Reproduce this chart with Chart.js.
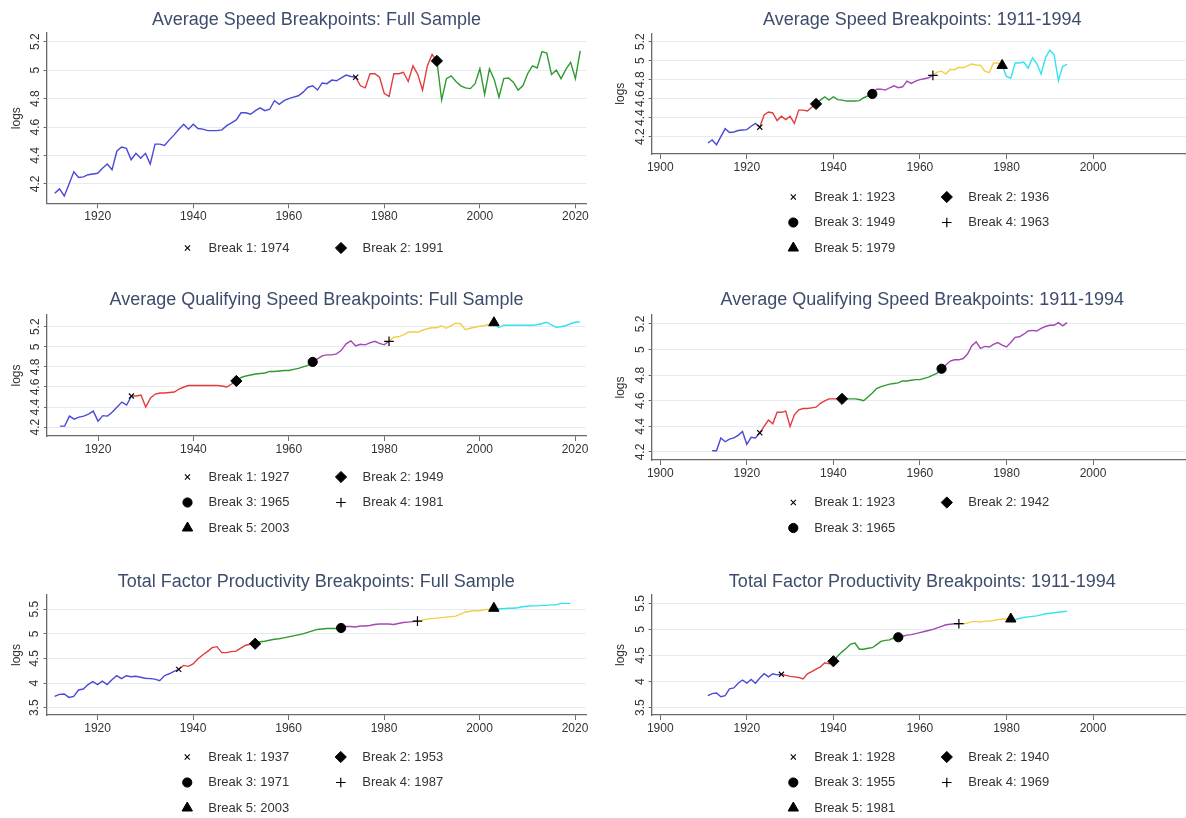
<!DOCTYPE html>
<html>
<head>
<meta charset="utf-8">
<script src="https://cdn.jsdelivr.net/npm/chart.js@4.4.1/dist/chart.umd.min.js"></script>
<style>
  html, body { margin: 0; padding: 0; background: #fff; width: 1186px; height: 818px; overflow: hidden; position: relative; }
  canvas { position: absolute; }
</style>
</head>
<body>
<canvas id="c1" width="593" height="280" style="left:0px;top:0px"></canvas>
<canvas id="c2" width="607" height="280" style="left:593px;top:0px"></canvas>
<canvas id="c3" width="593" height="280" style="left:0px;top:280px"></canvas>
<canvas id="c4" width="607" height="280" style="left:593px;top:280px"></canvas>
<canvas id="c5" width="593" height="280" style="left:0px;top:560px"></canvas>
<canvas id="c6" width="607" height="280" style="left:593px;top:560px"></canvas>
<script>
// Annual series in logs; each array holds one value per year from its start year.
const speedStart = 1911;
const avgSpeed = [
  4.134, 4.165, 4.116, 4.20, 4.285, 4.245, 4.25, 4.265, 4.27, 4.275,   // 1911-1920
  4.31, 4.34, 4.30, 4.43, 4.46, 4.45, 4.37, 4.415, 4.38, 4.415,         // 1921-1930
  4.34, 4.48, 4.48, 4.47, 4.51, 4.545, 4.585, 4.62, 4.585, 4.62,        // 1931-1940
  4.59, 4.585, 4.575, 4.575, 4.575, 4.58, 4.61, 4.63, 4.65, 4.70,       // 1941-1950
  4.70, 4.69, 4.715, 4.735, 4.715, 4.725, 4.785, 4.76, 4.785, 4.80,     // 1951-1960
  4.81, 4.82, 4.845, 4.88, 4.89, 4.86, 4.91, 4.905, 4.93, 4.925,        // 1961-1970
  4.945, 4.965, 4.955, 4.95, 4.89, 4.875, 4.975, 4.975, 4.95, 4.835,    // 1971-1980
  4.815, 4.975, 4.975, 4.985, 4.92, 5.03, 4.97, 4.86, 5.03, 5.11,       // 1981-1990
  5.065, 4.79, 4.94, 4.96, 4.92, 4.89, 4.875, 4.87, 4.905, 5.01,        // 1991-2000
  4.83, 5.01, 4.935, 4.81, 4.94, 4.945, 4.915, 4.86, 4.89, 4.975,       // 2001-2010
  5.03, 5.015, 5.13, 5.12, 4.97, 5.00, 4.94, 5.005, 5.055, 4.94,        // 2011-2020
  5.135                                                                  // 2021
];

const qualStart = 1912;
const qualSpeed = [
  4.21, 4.21, 4.31, 4.28, 4.30, 4.31, 4.33, 4.36, 4.26,                 // 1912-1920
  4.315, 4.31, 4.35, 4.40, 4.45, 4.42, 4.51, 4.51, 4.52, 4.40,          // 1921-1930
  4.49, 4.53, 4.54, 4.54, 4.545, 4.55, 4.58, 4.60, 4.615, 4.615,        // 1931-1940
  4.615, 4.615, 4.615, 4.615, 4.615, 4.61, 4.60, 4.63, 4.66, 4.695,     // 1941-1950
  4.71, 4.72, 4.73, 4.735, 4.74, 4.755, 4.755, 4.76, 4.765, 4.765,      // 1951-1960
  4.775, 4.785, 4.80, 4.815, 4.85, 4.88, 4.91, 4.92, 4.92, 4.93,        // 1961-1970
  4.965, 5.03, 5.06, 5.01, 5.025, 5.02, 5.04, 5.055, 5.035, 5.02,       // 1971-1980
  5.055, 5.095, 5.10, 5.12, 5.145, 5.15, 5.145, 5.165, 5.18, 5.19,      // 1981-1990
  5.19, 5.21, 5.185, 5.21, 5.235, 5.23, 5.17, 5.185, 5.195, 5.205,      // 1991-2000
  5.21, 5.225, 5.24, 5.19, 5.215, 5.215, 5.215, 5.215, 5.215, 5.215,    // 2001-2010
  5.215, 5.22, 5.23, 5.245, 5.22, 5.195, 5.20, 5.21, 5.23, 5.245,       // 2011-2020
  5.25                                                                   // 2021
];

const tfpStart = 1911;
const tfp = [
  3.73, 3.77, 3.78, 3.71, 3.73, 3.86, 3.88, 3.97, 4.03, 3.97,           // 1911-1920
  4.04, 3.97, 4.07, 4.15, 4.09, 4.15, 4.13, 4.14, 4.12, 4.10,           // 1921-1930
  4.09, 4.08, 4.05, 4.15, 4.19, 4.24, 4.28, 4.36, 4.34, 4.39,           // 1931-1940
  4.49, 4.57, 4.64, 4.72, 4.74, 4.62, 4.62, 4.64, 4.65, 4.71,           // 1941-1950
  4.77, 4.79, 4.80, 4.84, 4.85, 4.87, 4.89, 4.90, 4.92, 4.94,           // 1951-1960
  4.96, 4.98, 5.00, 5.03, 5.06, 5.09, 5.10, 5.11, 5.11, 5.11,           // 1961-1970
  5.12, 5.15, 5.15, 5.14, 5.16, 5.16, 5.17, 5.19, 5.20, 5.20,           // 1971-1980
  5.20, 5.19, 5.21, 5.23, 5.24, 5.25, 5.26, 5.28, 5.30, 5.31,           // 1981-1990
  5.32, 5.33, 5.34, 5.35, 5.36, 5.40, 5.44, 5.46, 5.47, 5.47,           // 1991-2000
  5.49, 5.50, 5.52, 5.51, 5.51, 5.52, 5.52, 5.53, 5.55, 5.56,           // 2001-2010
  5.57, 5.57, 5.58, 5.58, 5.59, 5.59, 5.62, 5.62, 5.62                  // 2011-2019
];

// Estimated structural break years
const speedBreaksFull = [1974, 1991];
const speedBreaksSub  = [1923, 1936, 1949, 1963, 1979];
const qualBreaksFull  = [1927, 1949, 1965, 1981, 2003];
const qualBreaksSub   = [1923, 1942, 1965];
const tfpBreaksFull   = [1937, 1953, 1971, 1987, 2003];
const tfpBreaksSub    = [1928, 1940, 1955, 1969, 1981];
const subSampleEnd = 1994;

// Axis ticks and their labels
const fullYearTicks = [1920, 1940, 1960, 1980, 2000, 2020];
const subYearTicks  = [1900, 1920, 1940, 1960, 1980, 2000];
const speedTicks = [4.2, 4.4, 4.6, 4.8, 5, 5.2];
const speedTickLabels = ['4.2', '4.4', '4.6', '4.8', '5', '5.2'];
const tfpTicks = [3.5, 4, 4.5, 5, 5.5];
const tfpTickLabels = ['3.5', '4', '4.5', '5', '5.5'];

// Styling
const FONT = "'Liberation Sans', Arial, Helvetica, sans-serif";
const regimeColors = ['#4a4ad6', '#e23c3c', '#2f9a2f', '#a447b3', '#f3cf45', '#33e3ef'];
const breakMarkers = [
  { style: 'crossRot', radius: 3.6, width: 1.1 },
  { style: 'rectRot',  radius: 5.6, width: 1 },
  { style: 'circle',   radius: 4.6, width: 1 },
  { style: 'cross',    radius: 4.8, width: 1.2 },
  { style: 'triangle', radius: 6,   width: 1 }
];
const AXIS_COLOR = '#6a6a6a';
const GRID_COLOR = '#e5ecf0';
const TEXT_COLOR = '#333333';
const TITLE_COLOR = '#3e4c6c';

function buildDatasets(start, values, lastYear, breaks) {
  const pts = values.map((v, i) => ({ x: start + i, y: v })).filter(p => p.x <= lastYear);
  const markers = breaks.map((b, k) => {
    const m = breakMarkers[k];
    return {
      label: 'Break ' + (k + 1) + ': ' + b,
      isBreak: true,
      data: pts.filter(p => p.x === b),
      showLine: false,
      pointStyle: m.style,
      pointRadius: m.radius,
      pointBorderWidth: m.width,
      pointBackgroundColor: '#000',
      pointBorderColor: '#000'
    };
  });
  const edges = [pts[0].x].concat(breaks, [pts[pts.length - 1].x]);
  const segments = [];
  for (let k = 0; k < edges.length - 1; k++) {
    segments.push({
      label: 'regime ' + (k + 1),
      data: pts.filter(p => p.x >= edges[k] && p.x <= edges[k + 1]),
      borderColor: regimeColors[k],
      borderWidth: 1.4,
      pointRadius: 0,
      tension: 0,
      fill: false
    });
  }
  // markers first so they are painted above the lines
  return markers.concat(segments);
}

// Two-column legend of the break markers, centred under the plot
const breakLegend = {
  id: 'breakLegend',
  afterDraw(chart, args, opts) {
    const ctx = chart.ctx;
    const items = chart.data.datasets.filter(d => d.isBreak);
    const nRows = Math.ceil(items.length / 2);
    const cx = (chart.chartArea.left + chart.chartArea.right) / 2;
    ctx.save();
    ctx.font = '13px ' + FONT;
    ctx.textBaseline = 'middle';
    ctx.textAlign = 'left';
    items.forEach((ds, i) => {
      const row = Math.floor(i / 2), col = i % 2;
      const y = opts.bottomRow - (nRows - 1 - row) * opts.rowGap;
      const sx = cx + (col ? opts.sym2 : opts.sym1);
      const tx = cx + (col ? opts.text2 : opts.text1);
      ctx.fillStyle = '#000';
      ctx.strokeStyle = '#000';
      ctx.lineWidth = ds.pointBorderWidth;
      Chart.helpers.drawPoint(ctx, {
        pointStyle: ds.pointStyle, rotation: 0,
        radius: ds.pointRadius, borderWidth: ds.pointBorderWidth
      }, sx, y);
      ctx.fillStyle = TEXT_COLOR;
      ctx.fillText(ds.label, tx, y);
    });
    ctx.restore();
  }
};

const panels = [
  { id: 'c1', title: 'Average Speed Breakpoints: Full Sample',
    start: speedStart, values: avgSpeed, last: 2021, breaks: speedBreaksFull,
    xMin: 1909.3, xMax: 2022.3, xTicks: fullYearTicks,
    yMin: 4.064, yMax: 5.261, yTicks: speedTicks, yLabels: speedTickLabels,
    yWidth: 46.6, padRight: 6, padBottom: 56.7, titleTop: 9.2, titleBottom: 2.2, logsPad: 9.2 },
  { id: 'c2', title: 'Average Speed Breakpoints: 1911-1994',
    start: speedStart, values: avgSpeed, last: subSampleEnd, breaks: speedBreaksSub,
    xMin: 1898.0, xMax: 2023.1, xTicks: subYearTicks,
    yMin: 4.018, yMax: 5.288, yTicks: speedTicks, yLabels: speedTickLabels,
    yWidth: 58.6, padRight: 7, padBottom: 106, titleTop: 9.2, titleBottom: 2.5, logsPad: 20.6 },
  { id: 'c3', title: 'Average Qualifying Speed Breakpoints: Full Sample',
    start: qualStart, values: qualSpeed, last: 2021, breaks: qualBreaksFull,
    xMin: 1909.3, xMax: 2022.3, xTicks: fullYearTicks,
    yMin: 4.112, yMax: 5.317, yTicks: speedTicks, yLabels: speedTickLabels,
    yWidth: 47, padRight: 6, padBottom: 104, titleTop: 9.2, titleBottom: 4.2, logsPad: 9.2 },
  { id: 'c4', title: 'Average Qualifying Speed Breakpoints: 1911-1994',
    start: qualStart, values: qualSpeed, last: subSampleEnd, breaks: qualBreaksSub,
    xMin: 1898.0, xMax: 2023.1, xTicks: subYearTicks,
    yMin: 4.1375, yMax: 5.27, yTicks: speedTicks, yLabels: speedTickLabels,
    yWidth: 58.6, padRight: 7, padBottom: 80, titleTop: 9.2, titleBottom: 4.2, logsPad: 20.6 },
  { id: 'c5', title: 'Total Factor Productivity Breakpoints: Full Sample',
    start: tfpStart, values: tfp, last: 2019, breaks: tfpBreaksFull,
    xMin: 1909.3, xMax: 2022.3, xTicks: fullYearTicks,
    yMin: 3.352, yMax: 5.79, yTicks: tfpTicks, yLabels: tfpTickLabels,
    yWidth: 46.5, padRight: 6, padBottom: 105, titleTop: 10.9, titleBottom: 2.5, logsPad: 9.2 },
  { id: 'c6', title: 'Total Factor Productivity Breakpoints: 1911-1994',
    start: tfpStart, values: tfp, last: subSampleEnd, breaks: tfpBreaksSub,
    xMin: 1898.0, xMax: 2023.1, xTicks: subYearTicks,
    yMin: 3.36, yMax: 5.66, yTicks: tfpTicks, yLabels: tfpTickLabels,
    yWidth: 58.6, padRight: 7, padBottom: 105, titleTop: 10.9, titleBottom: 2.5, logsPad: 20.6 }
];

panels.forEach(p => {
  new Chart(document.getElementById(p.id), {
    type: 'line',
    data: { datasets: buildDatasets(p.start, p.values, p.last, p.breaks) },
    options: {
      responsive: false,
      animation: false,
      devicePixelRatio: 1,
      events: [],
      layout: { padding: { left: 0, right: p.padRight, top: 0, bottom: p.padBottom } },
      plugins: {
        legend: { display: false },
        tooltip: { enabled: false },
        title: {
          display: true, text: p.title, fullSize: false, color: TITLE_COLOR,
          font: { family: FONT, size: 18, weight: 'normal', lineHeight: 1.2 },
          padding: { top: p.titleTop, bottom: p.titleBottom }
        },
        breakLegend: { bottomRow: 248, rowGap: 25.5, sym1: -129, text1: -108, sym2: 24.5, text2: 46 }
      },
      scales: {
        x: {
          type: 'linear', min: p.xMin, max: p.xMax, bounds: 'data',
          afterBuildTicks: s => { s.ticks = p.xTicks.map(v => ({ value: v })); },
          afterFit: s => { s.height = 20; },
          ticks: {
            callback: v => String(v), autoSkip: false, maxRotation: 0, minRotation: 0,
            padding: 1.5, color: TEXT_COLOR, font: { family: FONT, size: 12 }
          },
          grid: { drawOnChartArea: false, drawTicks: true, tickLength: 5, tickColor: AXIS_COLOR, tickWidth: 1 },
          border: { display: true, color: AXIS_COLOR, width: 1.3 }
        },
        y: {
          type: 'linear', min: p.yMin, max: p.yMax, bounds: 'data',
          afterBuildTicks: s => { s.ticks = p.yTicks.map(v => ({ value: v })); },
          afterFit: s => { s.width = p.yWidth; },
          ticks: {
            callback: (v, i) => p.yLabels[i], autoSkip: false,
            minRotation: 90, maxRotation: 90, crossAlign: 'center',
            padding: 0, color: TEXT_COLOR, font: { family: FONT, size: 12 }
          },
          grid: { color: GRID_COLOR, lineWidth: 1, drawTicks: true, tickLength: 3, tickColor: AXIS_COLOR, tickWidth: 1 },
          border: { display: true, color: AXIS_COLOR, width: 1.3 },
          title: {
            display: true, text: 'logs', color: TEXT_COLOR,
            font: { family: FONT, size: 12 }, padding: { top: p.logsPad, bottom: 0 }
          }
        }
      }
    },
    plugins: [breakLegend]
  });
});
</script>
</body>
</html>
